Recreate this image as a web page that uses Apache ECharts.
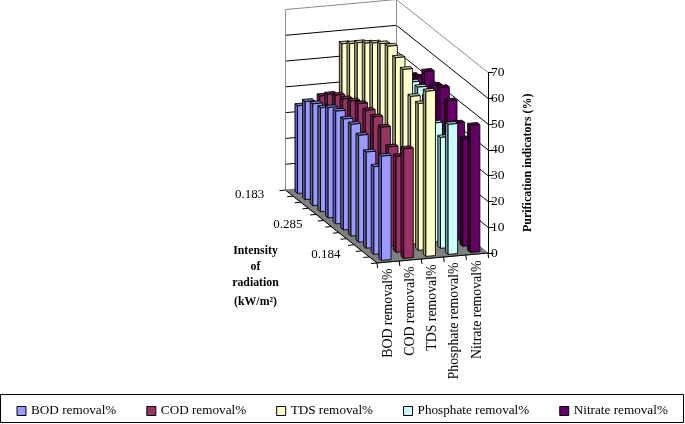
<!DOCTYPE html>
<html><head><meta charset="utf-8">
<style>html,body{margin:0;padding:0;background:#fff}#c{width:685px;height:424px}</style>
<script src="https://cdn.jsdelivr.net/npm/echarts@6/dist/echarts.min.js"></script>
</head><body><div id="c"></div>
<script>
var categories = ['BOD removal%','COD removal%','TDS removal%','Phosphate removal%','Nitrate removal%'];
var colors = ['#9999FF','#993366','#FFFFCC','#CCFFFF','#660066'];
// values from the back row to the front row
var bod = [34,38,39.5,40.3,42.7,43.7,43,43.3,41.4,37.3,34,40.4];
var cod = [37,40,42,43,44.5,45.8,45.6,45.4,43.8,38.5,37.2,42.5];
var tds = [56.5,58.9,61.6,63.8,66.2,68.3,69.7,67.6,65.4,57.3,56.9,64];
var phosphate = [48,49,50,51,52,53,55,55.4,54,46.2,43,50.4];
var nitrate = [47,48,49,49.7,51.4,56,53,54.4,51.6,45.4,41.7,49.2];
var valueTicks = [0,10,20,30,40,50,60,70];
var depthTicks = ['0.183','0.285','0.184'];
var depthTickRows = [0,5,10];
var rowCount = 12;
var allSeries = [bod,cod,tds,phosphate,nitrate];

var FONT = '"Liberation Serif","Times New Roman",serif';
var SLOPE = 10/111, DX = 7.625, DY = 6.08, BAR_W = 0.215, BAR_D = 0.35, BAR_SHIFT = 0.03;

function projector(params, api){
  var cs = params.coordSys, right = cs.x + cs.width, bw = api.size([1,0])[0];
  return function(k, frac, depth, v){
    var p = api.coord([k, v]);
    var x = p[0] + frac*bw;
    return [x - depth*DX, p[1] + (right - x)*SLOPE - depth*DY];
  };
}
function shade(hex, f){
  var n = parseInt(hex.slice(1),16);
  var c = [n>>16&255, n>>8&255, n&255].map(function(a){return Math.round(a*f);});
  return 'rgb('+c.join(',')+')';
}
function poly(pts, fill){
  return {type:'polygon', shape:{points:pts}, style:{fill:fill, stroke:'#000', lineWidth:0.9}};
}
function line(a,b,col,w){
  return {type:'line', shape:{x1:a[0],y1:a[1],x2:b[0],y2:b[1]}, style:{stroke:col, lineWidth:w||1, fill:null}};
}
function barRenderer(s){
  return function(params, api){
    var P = projector(params, api);
    var k = api.value(0), v = api.value(1), f = rowCount-1-api.value(2);
    var d0 = f+(1-BAR_D)/2, d1 = f+(1+BAR_D)/2;
    var a = BAR_SHIFT-BAR_W, b = BAR_SHIFT+BAR_W;
    var c = colors[s];
    return {type:'group', children:[
      poly([P(k,a,d1,0),P(k,a,d0,0),P(k,a,d0,v),P(k,a,d1,v)], shade(c,0.62)),
      poly([P(k,a,d0,v),P(k,b,d0,v),P(k,b,d1,v),P(k,a,d1,v)], shade(c,0.8)),
      poly([P(k,a,d0,0),P(k,b,d0,0),P(k,b,d0,v),P(k,a,d0,v)], c)
    ]};
  };
}
function frameRenderer(params, api){
  var P = projector(params, api), n = categories.length-1, ch = [];
  var L=-0.5, R=0.5;
  ch.push({type:'polygon', shape:{points:[P(0,L,0,0),P(n,R,0,0),P(n,R,rowCount,0),P(0,L,rowCount,0)]},
    style:{fill:'#808080', stroke:'#808080', lineWidth:1}});
  valueTicks.forEach(function(v){
    if(v===0) return;
    var col = v===70 ? '#8c8c8c' : '#000';
    ch.push(line(P(0,L,rowCount,v),P(n,R,rowCount,v),col));
    ch.push(line(P(n,R,rowCount,v),P(n,R,0,v),col));
  });
  ch.push(line(P(0,L,rowCount,0),P(0,L,rowCount,70),'#8c8c8c'));
  ch.push(line(P(n,R,rowCount,0),P(n,R,rowCount,70),'#8c8c8c'));
  // category edge and ticks
  ch.push(line(P(0,L,0,0),P(n,R,0,0),'#000'));
  ch.push(line(P(0,L,0,0),P(0,L,rowCount,0),'#000'));
  for(var k=0;k<=n+1;k++){
    var a = k<=n ? P(k,L,0,0) : P(n,R,0,0);
    ch.push(line(a,[a[0]+0.6,a[1]+5],'#000'));
  }
  for(var r=0;r<=rowCount;r++){
    var e = P(0,L,r,0);
    ch.push(line(e,[e[0]-6,e[1]+0.6],'#000'));
  }
  categories.forEach(function(name,k){
    var e = P(k,0,0,0);
    ch.push({type:'text', x:e[0], y:e[1]+6.5, rotation:Math.PI/2,
      style:{text:name, align:'right', verticalAlign:'middle', fill:'#000', font:'13.8px '+FONT}});
  });
  depthTicks.forEach(function(t,i){
    var e = P(0,L,rowCount-depthTickRows[i]-0.5,0);
    ch.push({type:'text', x:e[0]-25, y:e[1]+1,
      style:{text:t, align:'right', verticalAlign:'middle', fill:'#000', font:'13px '+FONT}});
  });
  return {type:'group', children:ch};
}

var series = [{
  type:'custom', name:'frame', z:1, clip:false, silent:true,
  coordinateSystem:'cartesian2d', renderItem:frameRenderer, data:[[0,0]], animation:false
}];
for(var s=categories.length-1;s>=0;s--){
  (function(s){
    series.push({
      type:'custom', name:categories[s], z:10+(4-s), clip:false, animation:false,
      coordinateSystem:'cartesian2d', renderItem:barRenderer(s),
      itemStyle:{color:colors[s]},
      encode:{x:0,y:1},
      data:allSeries[s].map(function(v,r){return [s,v,r];})
    });
  })(s);
}
function axisTitle(text,y){
  return {type:'text', x:255.5, y:y, style:{text:text, align:'center', verticalAlign:'middle', fill:'#000', font:'bold 11.8px '+FONT}};
}
var chart = echarts.init(document.getElementById('c'),null,{renderer:'canvas'});
chart.setOption({
  animation:false,
  backgroundColor:'#fff',
  grid:{left:377, top:72.5, width:111, height:180.5, containLabel:false},
  xAxis:{type:'category', data:categories, show:false},
  yAxis:{type:'value', min:0, max:70, interval:10, position:'right',
    axisLine:{show:true, onZero:false, lineStyle:{color:'#000', width:1}},
    axisTick:{show:true, length:5.5, lineStyle:{color:'#000'}},
    axisLabel:{color:'#000', fontFamily:FONT, fontSize:13.5, margin:3},
    splitLine:{show:false},
    name:'Purification indicators (%)', nameLocation:'middle', nameRotate:90, nameGap:34,
    nameTextStyle:{color:'#000', fontFamily:FONT, fontSize:12, fontWeight:'bold'}
  },
  legend:{data:categories, left:16.5, top:404.5, orient:'horizontal', itemWidth:9, itemHeight:9, itemGap:30,
    icon:'rect', selectedMode:false,
    itemStyle:{borderColor:'#000', borderWidth:1},
    textStyle:{color:'#000', fontFamily:FONT, fontSize:13.2}, padding:0},
  graphic:[
    {type:'rect', z:-1, shape:{x:0.5,y:394.5,width:683,height:28}, style:{fill:'#fff',stroke:'#000',lineWidth:1}},
    axisTitle('Intensity',251), axisTitle('of',267), axisTitle('radiation',282.5), axisTitle('(kW/m\u00B2)',302)
  ],
  series:series
});
</script></body></html>
